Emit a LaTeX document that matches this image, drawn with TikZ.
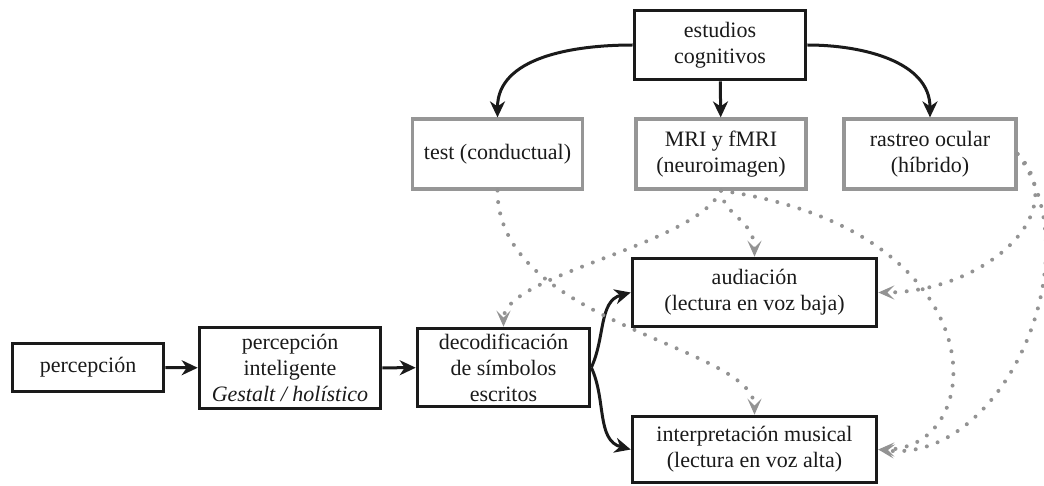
\documentclass[tikz,border=0pt]{standalone}
\usepackage{fontspec}
\setmainfont{Liberation Serif}
\usetikzlibrary{arrows.meta}
\definecolor{ink}{HTML}{1A1A1A}
\definecolor{boxgray}{HTML}{969696}
\definecolor{dotgray}{HTML}{939393}

\begin{document}
\begin{tikzpicture}[x=1pt,y=1pt,
  font=\fontsize{22}{26}\selectfont,
  every node/.style={inner sep=0pt, align=center, text=ink},
  mainbox/.style={draw=ink, line width=3.6pt},
  methodbox/.style={draw=boxgray, line width=3.2pt, minimum width=170pt, minimum height=70pt},
  flow/.style={draw=ink, line width=3pt, -{Stealth[length=16pt,width=15pt,inset=5pt]}},
  link/.style={draw=dotgray, line width=4pt, line cap=round,
    dash pattern=on 0pt off 11.5pt, -{Stealth[length=16pt,width=14pt,inset=7pt]}}
]
\useasboundingbox (0,0) rectangle (1044,-486);

% reading pipeline
\node[mainbox, minimum width=151pt, minimum height=48pt] (perc) at (88,-367.5) {percepción};
\node[mainbox, minimum width=181pt, minimum height=81pt] (intel) at (290,-368)
  {percepción\\inteligente\\\textit{Gestalt / holístico}};
\node[mainbox, minimum width=172pt, minimum height=78pt] (decod) at (503.5,-367.5)
  {decodificación\\de símbolos\\escritos};
\node[mainbox, minimum width=244pt, minimum height=68pt] (aud) at (754.5,-292.5)
  {audiación\\(lectura en voz baja)};
\node[mainbox, minimum width=244pt, minimum height=66pt] (interp) at (754.5,-449.5)
  {interpretación musical\\(lectura en voz alta)};

% research methods
\node[mainbox, minimum width=171pt, minimum height=69pt] (cog) at (720,-45)
  {estudios\\cognitivos};
\node[methodbox] (test) at (497.5,-154) {test (conductual)};
\node[methodbox] (mri) at (721,-154) {MRI y fMRI\\(neuroimagen)};
\node[methodbox, minimum width=172pt] (eye) at (930,-154) {rastreo ocular\\(híbrido)};

% solid flow arrows
\draw[flow] (perc) -- (intel);
\draw[flow] (intel) -- (decod);
\draw[flow] (decod.east) to[out=65,in=195] (aud.west);
\draw[flow] (decod.east) to[out=-65,in=165] (interp.west);
\draw[flow] (cog.west) to[out=180,in=90] (test.north);
\draw[flow] (cog) -- (mri);
\draw[flow] (cog.east) to[out=0,in=90] (eye.north);

% dotted links from methods to reading stages
\draw[link] (test.south) .. controls +(0,-134) and +(0,69) .. (interp.north);
\draw[link] (mri.south) .. controls +(-26,-55) and +(0,52) .. (decod.north);
\draw[link] (mri.south) .. controls +(2,-25) and +(0,37) .. (aud.north);
\draw[link] (mri.south) .. controls +(279,-40) and +(112,0) .. (interp.east);
\draw[link] (eye.east) .. controls +(58,-61) and +(102,0) .. (aud.east);
\draw[link] (eye.east) .. controls +(78,-106) and +(122,-15) .. (interp.east);
\end{tikzpicture}
\end{document}
